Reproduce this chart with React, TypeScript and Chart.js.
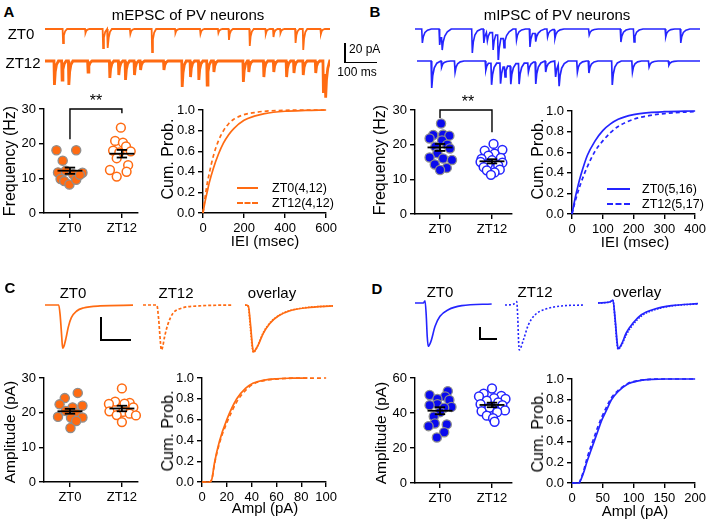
import React, { useEffect, useRef } from 'react';
import { Chart, registerables } from 'chart.js';
Chart.register(...registerables);

const FONT = '"Liberation Sans", Arial, Helvetica, sans-serif';
const ORANGE = '#FF6B12';
const BLUE = '#2424FF';
const BLUE_DOT = '#0A0AEE';
const DOT_EDGE = '#8E8E8E';

// ---------------- categories ----------------
const GROUPS = ['ZT0', 'ZT12'];

// ---------------- Panel A: example mEPSC traces (event time ms, amplitude pA) ----------------
const A_TRACE_MS = 890;
const A_ZT0_EVENT_MS = [55, 125, 180, 195, 265, 333, 406, 484, 540, 573, 638, 688, 712, 734, 781, 805, 860];
const A_ZT0_EVENT_PA = [14, 4, 19, 19, 5, 23, 4, 5, 4, 11, 17, 5, 8, 4, 14, 21, 5];
const A_ZT12_EVENT_MS = [28, 52, 73, 133, 201, 229, 250, 278, 297, 370, 427, 453, 479, 505, 526, 618, 635, 682, 713, 753, 776, 805, 844, 868, 875];
const A_ZT12_EVENT_PA = [24, 19, 24, 11, 17, 14, 19, 14, 9, 9, 26, 16, 19, 24, 11, 21, 11, 16, 11, 16, 12, 14, 12, 32, 26];
const EPSC_SHAPE_MS = [0, 1.5, 4, 8, 14];
const EPSC_SHAPE_REL = [0, -1, -0.45, -0.15, 0];

// ---------------- Panel B: example mIPSC traces ----------------
const B_TRACE1_MS = 890;
const B_ZT0_EVENT_MS = [21, 75, 83, 177, 213, 224, 242, 258, 276, 315, 357, 375, 412, 435, 542, 641, 682, 781, 828];
const B_ZT0_EVENT_PA = [14, 16, 14, 24, 14, 9, 18, 29, 11, 11, 18, 9, 8, 9, 6, 13, 13, 8, 14];
const B_TRACE2_MS = 884;
const B_ZT12_EVENT_MS = [44, 75, 117, 213, 231, 259, 273, 291, 317, 346, 369, 400, 431, 442, 499, 535, 608, 671, 723, 785];
const B_ZT12_EVENT_PA = [27, 6, 11, 9, 22, 21, 11, 19, 21, 9, 22, 11, 16, 22, 11, 12, 24, 11, 6, 4];
const IPSC_SHAPE_MS = [0, 2, 5, 10, 18, 30];
const IPSC_SHAPE_REL = [0, -1, -0.55, -0.25, -0.08, 0];

// ---------------- Panel A/B: frequency scatter ----------------
const FREQ_A_ZT0 = [18.1, 18.1, 15.1, 11.7, 12.2, 11.2, 11.6, 9.8, 9.2, 8.2, 9.6, 11.0];
const FREQ_A_ZT0_JIT = [-0.26, 0.12, -0.14, -0.23, -0.08, 0.06, 0.24, -0.18, -0.11, -0.01, 0.12, 0.19];
const FREQ_A_ZT12 = [24.6, 20.8, 20.3, 19.2, 18.0, 17.8, 17.5, 15.8, 13.8, 12.4, 11.9, 10.5];
const FREQ_A_ZT12_JIT = [-0.02, -0.13, 0.02, 0.08, -0.17, 0.17, -0.05, -0.1, 0.12, -0.23, 0.09, -0.1];
const FREQ_A_MEAN = [12.2, 17.1];
const FREQ_A_SEM = [0.9, 1.1];
const FREQ_A_BRACKET = [21.3, 30, 28.8];

const FREQ_B_ZT0 = [26.1, 22.8, 22.9, 22.6, 21.8, 21.2, 20.0, 19.4, 18.9, 17.5, 16.3, 16.0, 15.6, 14.3, 13.3, 12.7];
const FREQ_B_ZT0_JIT = [0.02, -0.13, 0.06, 0.18, -0.2, 0.04, 0.14, -0.09, 0.19, -0.05, -0.2, 0.06, 0.23, -0.1, 0.13, 0.0];
const FREQ_B_ZT12 = [20.2, 18.5, 18.3, 17.4, 16.8, 16.2, 15.9, 15.5, 15.0, 14.8, 14.3, 14.0, 13.5, 12.8, 12.6, 12.0, 11.3];
const FREQ_B_ZT12_JIT = [0.03, 0.2, -0.14, 0.05, -0.07, 0.17, -0.2, 0.0, -0.22, 0.2, -0.08, 0.12, -0.16, 0.15, -0.1, 0.05, -0.02];
const FREQ_B_MEAN = [19.2, 15.2];
const FREQ_B_SEM = [1.0, 0.6];
const FREQ_B_BRACKET = [27.7, 30, 23.6];

// ---------------- Panel A/B: IEI cumulative ----------------
const IEI_A_X = [0, 10, 20, 30, 50, 75, 100, 125, 150, 200, 250, 300, 400, 500, 600];
const IEI_A_ZT0 = [0, 0.11, 0.2, 0.29, 0.43, 0.57, 0.68, 0.76, 0.82, 0.9, 0.94, 0.965, 0.988, 0.996, 1.0];
const IEI_A_ZT12 = [0, 0.15, 0.28, 0.38, 0.55, 0.7, 0.8, 0.867, 0.91, 0.955, 0.975, 0.988, 0.997, 1.0, 1.0];
const IEI_B_X = [0, 10, 20, 30, 50, 75, 100, 125, 150, 200, 250, 300, 400];
const IEI_B_ZT0 = [0, 0.15, 0.28, 0.39, 0.57, 0.71, 0.81, 0.875, 0.92, 0.965, 0.985, 0.993, 1.0];
const IEI_B_ZT12 = [0, 0.12, 0.22, 0.31, 0.46, 0.61, 0.71, 0.79, 0.85, 0.92, 0.955, 0.975, 0.995];

// ---------------- Panel C/D: averaged waveforms (ms, pA) ----------------
const WF_C_ZT0_T = [0, 2.3, 2.55, 2.8, 2.95, 3.15, 3.5, 3.9, 4.4, 5.3, 6.4, 9.2, 14.7];
const WF_C_ZT0_V = [0, 0, -5, -14, -18.8, -18, -14.5, -9.5, -5.5, -2.6, -1.3, -0.4, -0.1];
const WF_C_ZT12_T = [0, 2.3, 2.6, 2.9, 3.05, 3.25, 3.6, 4.2, 5.0, 6.4, 9.4, 15.0];
const WF_C_ZT12_V = [0, 0, -6, -16, -19.6, -18.5, -13.8, -8.0, -3.6, -1.4, -0.4, 0];
const WF_C_OVL_T = [0, 1.1, 1.8, 2.5, 2.8, 3.2, 4.4, 6.1, 8.3, 11.1, 15.0, 20.6, 29.4];
const WF_C_OVL_ZT0_V = [0, -0.4, -8, -18, -20.3, -20, -17.4, -12.3, -8.0, -4.8, -2.5, -1.2, -0.4];
const WF_C_OVL_ZT12_V = [0, -0.8, -10, -19.2, -20.5, -20.2, -17.2, -12.0, -7.8, -4.7, -2.4, -1.1, -0.4];

const WF_D_ZT0_T = [0, 4.9, 5.9, 6.6, 7.2, 7.8, 9.4, 11.8, 14.7, 19.6, 27.5, 45.1];
const WF_D_ZT0_V = [0, 0, 1.9, -10, -28, -36.1, -31.9, -19.4, -11.1, -5.6, -2.2, -0.8];
const WF_D_ZT12_T = [0, 4.9, 6.9, 7.5, 8.0, 8.4, 10.8, 13.7, 17.6, 23.5, 33.4, 47.1];
const WF_D_ZT12_V = [0, 0.6, 2.8, -10, -30, -37.5, -29.2, -16.7, -8.3, -3.6, -0.8, 0];
const WF_D_OVL_T = [0, 6.9, 8.8, 10.0, 11.2, 11.8, 13.7, 16.6, 20.6, 25.5, 33.4, 43.1, 58.8];
const WF_D_OVL_ZT0_V = [0, 0.8, 2.3, -12, -32, -38.1, -34.8, -25, -16.7, -9.8, -5, -2.2, -0.6];
const WF_D_OVL_ZT12_V = [0, 0.8, 2.3, -14, -34, -38.5, -35.5, -26.5, -18, -10.8, -5.6, -2.5, -0.7];

// ---------------- Panel C/D: amplitude scatter ----------------
const AMP_C_ZT0 = [25.7, 24.2, 22.4, 22.0, 21.5, 20.5, 19.8, 18.8, 18.6, 18.5, 17.6, 15.6];
const AMP_C_ZT0_JIT = [0.15, -0.1, -0.2, 0.24, 0.05, -0.08, 0.12, -0.23, 0.24, 0.02, 0.12, 0.01];
const AMP_C_ZT12 = [27.0, 23.2, 22.8, 22.6, 22.5, 21.5, 20.4, 20.2, 19.7, 19.3, 19.2, 17.3];
const AMP_C_ZT12_JIT = [0.0, -0.13, 0.15, 0.05, -0.25, 0.22, -0.24, 0.02, 0.15, -0.1, 0.27, 0.0];
const AMP_C_MEAN = [20.4, 21.2];
const AMP_C_SEM = [0.7, 0.8];

const AMP_D_ZT0 = [52.5, 50.3, 49.5, 48.0, 47.5, 45.0, 44.5, 43.5, 43.0, 40.5, 38.0, 34.0, 33.5, 32.5, 29.0, 26.0];
const AMP_D_ZT0_JIT = [0.15, -0.2, 0.1, -0.05, 0.18, -0.05, -0.2, 0.22, 0.08, 0.0, -0.12, -0.1, 0.13, -0.22, 0.08, -0.06];
const AMP_D_ZT12 = [54.0, 51.0, 49.8, 49.5, 48.5, 48.0, 47.0, 46.0, 45.0, 44.5, 43.0, 41.5, 41.0, 40.5, 38.5, 37.0, 35.0];
const AMP_D_ZT12_JIT = [0.0, -0.16, 0.18, -0.25, 0.04, 0.26, -0.1, 0.12, -0.22, 0.2, -0.05, 0.25, -0.2, 0.1, -0.1, 0.02, 0.05];
const AMP_D_MEAN = [41.3, 44.6];
const AMP_D_SEM = [2.0, 1.3];

// ---------------- Panel C/D: amplitude cumulative ----------------
const AMPL_C_ZT0_X = [0, 6, 8, 10, 14, 20, 28, 35, 41, 50, 60, 70, 85];
const AMPL_C_ZT0 = [0, 0, 0.03, 0.18, 0.39, 0.6, 0.8, 0.9, 0.95, 0.98, 0.993, 0.998, 1.0];
const AMPL_C_ZT12_X = [0, 6, 8, 10, 14, 20, 28, 35, 41, 50, 60, 70, 85, 100];
const AMPL_C_ZT12 = [0, 0, 0.03, 0.17, 0.37, 0.57, 0.77, 0.88, 0.94, 0.975, 0.99, 0.997, 0.999, 1.0];
const AMPL_D_X = [0, 11, 15, 20, 24, 30, 36, 42, 48, 56, 64, 75, 90, 110, 130, 150, 200];
const AMPL_D_ZT0 = [0, 0, 0.04, 0.12, 0.2, 0.3, 0.4, 0.5, 0.6, 0.7, 0.8, 0.88, 0.95, 0.985, 0.997, 1, 1];
const AMPL_D_ZT12 = [0, 0, 0.05, 0.14, 0.23, 0.34, 0.44, 0.54, 0.63, 0.73, 0.82, 0.89, 0.955, 0.987, 0.997, 1, 1];

// ================= helpers =================
const xy = (xs: number[], ys: number[]) => xs.map((x, i) => ({ x, y: ys[i] }));

function buildTrace(times: number[], amps: number[], kT: number[], kV: number[], duration: number) {
  const pts: { x: number; y: number }[] = [{ x: 0, y: 0 }];
  let carry = 0;
  const n = kT.length;
  for (let i = 0; i < times.length; i++) {
    const t0 = times[i];
    const next = i + 1 < times.length ? times[i + 1] : Infinity;
    let last = 0;
    for (let k = 0; k < n; k++) {
      const x = t0 + kT[k];
      if (k > 0 && x >= next) break;
      const y = carry * (1 - k / (n - 1)) + amps[i] * kV[k];
      pts.push({ x, y });
      last = y;
    }
    carry = t0 + kT[n - 1] > next ? last : 0;
  }
  pts.push({ x: duration, y: 0 });
  return pts;
}

const base = {
  responsive: false,
  animation: false,
  devicePixelRatio: 1,
  events: [],
  plugins: { legend: { display: false }, tooltip: { enabled: false } },
};

function lineDs(data: any[], color: string, width: number, dash: number[] = [], smooth = false) {
  return {
    type: 'line',
    data,
    borderColor: color,
    borderWidth: width,
    borderDash: dash,
    pointRadius: 0,
    fill: false,
    tension: 0,
    cubicInterpolationMode: smooth ? 'monotone' : 'default',
    clip: false,
  };
}

function plainChart(datasets: any[], xMax: number, yMin: number, yMax: number) {
  return {
    type: 'line',
    data: { datasets },
    options: {
      ...base,
      layout: { padding: 0 },
      scales: {
        x: { type: 'linear', display: false, min: 0, max: xMax },
        y: { type: 'linear', display: false, min: yMin, max: yMax },
      },
    },
  };
}

const TICK_FONT = { family: FONT, size: 13 };
const gridOpts = { display: true, drawOnChartArea: false, drawTicks: true, tickLength: 5, color: '#000', lineWidth: 1.4 };
const borderOpts = { display: true, color: '#000', width: 1.4 };

function axes(o: {
  xMin: number; xMax: number; xStep?: number; xTicks?: number[]; xLabels?: string[];
  yMax: number; yStep: number; yFixed?: boolean; yW: number; xH: number;
}) {
  return {
    x: {
      type: 'linear',
      min: o.xMin,
      max: o.xMax,
      afterFit: (s: any) => { s.height = o.xH; },
      ...(o.xTicks ? { afterBuildTicks: (s: any) => { s.ticks = o.xTicks!.map((v) => ({ value: v })); } } : {}),
      ticks: {
        stepSize: o.xStep,
        font: TICK_FONT,
        color: '#000',
        padding: 3,
        maxRotation: 0,
        autoSkip: false,
        callback: (v: number) => (o.xLabels ? o.xLabels[Math.round(v) - 1] : String(v)),
      },
      grid: gridOpts,
      border: borderOpts,
    },
    y: {
      type: 'linear',
      min: 0,
      max: o.yMax,
      afterFit: (s: any) => { s.width = o.yW; },
      ticks: {
        stepSize: o.yStep,
        font: TICK_FONT,
        color: '#000',
        padding: 3,
        callback: (v: number) => (o.yFixed ? Number(v).toFixed(1) : String(Math.round(v))),
      },
      grid: gridOpts,
      border: borderOpts,
    },
  };
}

function meanSem(means: number[], sems: number[]) {
  const out: any[] = [];
  means.forEach((m, i) => {
    const g = i + 1;
    const s = sems[i];
    const segs = [
      [[g - 0.24, m], [g + 0.24, m]],
      [[g, m - s], [g, m + s]],
      [[g - 0.1, m - s], [g + 0.1, m - s]],
      [[g - 0.1, m + s], [g + 0.1, m + s]],
    ];
    segs.forEach((seg) => out.push(lineDs(seg.map(([x, y]) => ({ x, y })), '#000', 1.8)));
  });
  return out;
}

function scatterChart(o: {
  zt0: number[]; zt0J: number[]; zt12: number[]; zt12J: number[]; means: number[]; sems: number[];
  color: string; dot: string; yMax: number; yStep: number; xMin: number; xMax: number;
  yW: number; xH: number; padTop: number; padRight: number; bracket?: number[];
}) {
  const ds: any[] = [];
  if (o.bracket) {
    const b = o.bracket;
    ds.push(lineDs([{ x: 1, y: b[0] }, { x: 1, y: b[1] }, { x: 2, y: b[1] }, { x: 2, y: b[2] }], '#000', 1.4));
  }
  ds.push(...meanSem(o.means, o.sems));
  ds.push({
    type: 'scatter',
    data: o.zt12.map((v, i) => ({ x: 2 + o.zt12J[i], y: v })),
    pointRadius: 4.4,
    backgroundColor: '#fff',
    borderColor: o.color,
    pointBorderWidth: 1.5,
    clip: false,
  });
  ds.push({
    type: 'scatter',
    data: o.zt0.map((v, i) => ({ x: 1 + o.zt0J[i], y: v })),
    pointRadius: 4.6,
    backgroundColor: o.dot,
    borderColor: DOT_EDGE,
    pointBorderWidth: 1.3,
    clip: false,
  });
  return {
    type: 'scatter',
    data: { datasets: ds },
    options: {
      ...base,
      layout: { padding: { top: o.padTop, right: o.padRight, left: 0, bottom: 0 } },
      scales: axes({ xMin: o.xMin, xMax: o.xMax, xTicks: [1, 2], xLabels: GROUPS, yMax: o.yMax, yStep: o.yStep, yW: o.yW, xH: o.xH }),
    },
  };
}

function cumChart(o: {
  a: any[]; b: any[]; color: string; xMax: number; xStep: number; yW: number; xH: number; padTop: number; padRight: number;
}) {
  return {
    type: 'line',
    data: { datasets: [lineDs(o.a, o.color, 1.7, [], true), lineDs(o.b, o.color, 1.7, [4, 3], true)] },
    options: {
      ...base,
      layout: { padding: { top: o.padTop, right: o.padRight, left: 0, bottom: 0 } },
      scales: axes({ xMin: 0, xMax: o.xMax, xStep: o.xStep, yMax: 1, yStep: 0.2, yFixed: true, yW: o.yW, xH: o.xH }),
    },
  };
}

// ================= components =================
function ChartBox({ rect, make }: { rect: number[]; make: () => any }) {
  const ref = useRef<HTMLCanvasElement>(null);
  useEffect(() => {
    const c = new Chart(ref.current as HTMLCanvasElement, make());
    return () => c.destroy();
  }, []);
  const [l, t, w, h] = rect;
  return (
    <canvas ref={ref} width={w} height={h} style={{ position: 'absolute', left: l, top: t, width: w, height: h }} />
  );
}

function Txt({ x, y, size = 15, bold = false, rotate = false, left = false, children }: any) {
  return (
    <div
      style={{
        position: 'absolute',
        left: x,
        top: y,
        transform: `translate(${left ? '0' : '-50%'},-50%)${rotate ? ' rotate(-90deg)' : ''}`,
        fontSize: size,
        fontWeight: bold ? 700 : 400,
        lineHeight: 1,
        whiteSpace: 'nowrap',
        color: '#000',
        fontFamily: FONT,
      }}
    >
      {children}
    </div>
  );
}

function Bar({ x, y, w, h, color = '#000' }: any) {
  return <div style={{ position: 'absolute', left: x, top: y, width: w, height: h, background: color }} />;
}

function LegendLine({ x, y, w, color, dashed }: any) {
  return (
    <div
      style={{
        position: 'absolute',
        left: x,
        top: y - 1,
        width: w,
        height: 0,
        borderTop: `2px ${dashed ? 'dashed' : 'solid'} ${color}`,
      }}
    />
  );
}

export default function App() {
  return (
    <div style={{ position: 'fixed', left: 0, top: 0, width: 709, height: 520, background: '#fff', overflow: 'hidden', fontFamily: FONT }}>
      {/* ---------- Panel A traces ---------- */}
      <ChartBox rect={[45, 20, 285, 40]} make={() => plainChart([lineDs(buildTrace(A_ZT0_EVENT_MS, A_ZT0_EVENT_PA, EPSC_SHAPE_MS, EPSC_SHAPE_REL, A_TRACE_MS), ORANGE, 1.8)], A_TRACE_MS, -31, 9)} />
      <ChartBox rect={[45, 50, 285, 50]} make={() => plainChart([lineDs(buildTrace(A_ZT12_EVENT_MS, A_ZT12_EVENT_PA, EPSC_SHAPE_MS, EPSC_SHAPE_REL, A_TRACE_MS), ORANGE, 2.8)], A_TRACE_MS, -39, 11)} />
      {/* ---------- Panel B traces ---------- */}
      <ChartBox rect={[415, 20, 285, 40]} make={() => plainChart([lineDs(buildTrace(B_ZT0_EVENT_MS, B_ZT0_EVENT_PA, IPSC_SHAPE_MS, IPSC_SHAPE_REL, B_TRACE1_MS), BLUE, 1.6)], B_TRACE1_MS, -31, 9)} />
      <ChartBox rect={[417, 50, 283, 50]} make={() => plainChart([lineDs(buildTrace(B_ZT12_EVENT_MS, B_ZT12_EVENT_PA, IPSC_SHAPE_MS, IPSC_SHAPE_REL, B_TRACE2_MS), BLUE, 1.7)], B_TRACE2_MS, -39, 11)} />

      {/* scale bar A/B */}
      <Bar x={344} y={43} w={1.5} h={20} />
      <Bar x={344} y={61.5} w={33} h={1.5} />
      <Txt x={349} y={49} size={12} left>20 pA</Txt>
      <Txt x={357} y={72} size={12}>100 ms</Txt>

      {/* ---------- Frequency scatter ---------- */}
      <ChartBox rect={[0, 95, 145, 145]} make={() => scatterChart({ zt0: FREQ_A_ZT0, zt0J: FREQ_A_ZT0_JIT, zt12: FREQ_A_ZT12, zt12J: FREQ_A_ZT12_JIT, means: FREQ_A_MEAN, sems: FREQ_A_SEM, color: ORANGE, dot: ORANGE, yMax: 30, yStep: 10, xMin: 0.5, xMax: 2.31, yW: 44, xH: 27, padTop: 14, padRight: 7, bracket: FREQ_A_BRACKET })} />
      <ChartBox rect={[372, 95, 148, 145]} make={() => scatterChart({ zt0: FREQ_B_ZT0, zt0J: FREQ_B_ZT0_JIT, zt12: FREQ_B_ZT12, zt12J: FREQ_B_ZT12_JIT, means: FREQ_B_MEAN, sems: FREQ_B_SEM, color: BLUE, dot: BLUE_DOT, yMax: 30, yStep: 10, xMin: 0.519, xMax: 2.385, yW: 43, xH: 26, padTop: 15, padRight: 8, bracket: FREQ_B_BRACKET })} />

      {/* ---------- IEI cumulative ---------- */}
      <ChartBox rect={[150, 95, 190, 145]} make={() => cumChart({ a: xy(IEI_A_X, IEI_A_ZT0), b: xy(IEI_A_X, IEI_A_ZT12), color: ORANGE, xMax: 600, xStep: 200, yW: 53, xH: 27, padTop: 15, padRight: 13 })} />
      <ChartBox rect={[525, 95, 184, 145]} make={() => cumChart({ a: xy(IEI_B_X, IEI_B_ZT0), b: xy(IEI_B_X, IEI_B_ZT12), color: BLUE, xMax: 400, xStep: 100, yW: 47, xH: 26, padTop: 16, padRight: 12 })} />

      {/* ---------- Waveforms C ---------- */}
      <ChartBox rect={[45, 298, 88, 56]} make={() => plainChart([lineDs(xy(WF_C_ZT0_T, WF_C_ZT0_V), ORANGE, 1.7, [], true)], 14.7, -21.3, 3.04)} />
      <ChartBox rect={[143, 298, 90, 58]} make={() => plainChart([lineDs(xy(WF_C_ZT12_T, WF_C_ZT12_V), ORANGE, 1.7, [3, 2], true)], 15.0, -22.2, 3.04)} />
      <ChartBox rect={[245, 298, 88, 60]} make={() => plainChart([lineDs(xy(WF_C_OVL_T, WF_C_OVL_ZT12_V), ORANGE, 1.7, [1.5, 1.5], true), lineDs(xy(WF_C_OVL_T, WF_C_OVL_ZT0_V), ORANGE, 1.7, [], true)], 29.4, -23, 3.04)} />
      <Bar x={100} y={317} w={1.5} h={23} />
      <Bar x={100} y={339} w={31} h={1.5} />

      {/* ---------- Waveforms D ---------- */}
      <ChartBox rect={[415, 294, 77, 60]} make={() => plainChart([lineDs(xy(WF_D_ZT0_T, WF_D_ZT0_V), BLUE, 1.6, [], true)], 45.3, -42.5, 7.5)} />
      <ChartBox rect={[505, 296, 80, 60]} make={() => plainChart([lineDs(xy(WF_D_ZT12_T, WF_D_ZT12_V), BLUE, 1.6, [2, 2], true)], 47.1, -42.5, 7.5)} />
      <ChartBox rect={[598, 294, 100, 60]} make={() => plainChart([lineDs(xy(WF_D_OVL_T, WF_D_OVL_ZT12_V), BLUE, 1.7, [1.5, 1.5], true), lineDs(xy(WF_D_OVL_T, WF_D_OVL_ZT0_V), BLUE, 1.7, [], true)], 58.8, -42.5, 7.5)} />
      <Bar x={479} y={327} w={1.5} h={12} />
      <Bar x={479} y={338} w={18} h={1.5} />

      {/* ---------- Amplitude scatter ---------- */}
      <ChartBox rect={[0, 365, 145, 150]} make={() => scatterChart({ zt0: AMP_C_ZT0, zt0J: AMP_C_ZT0_JIT, zt12: AMP_C_ZT12, zt12J: AMP_C_ZT12_JIT, means: AMP_C_MEAN, sems: AMP_C_SEM, color: ORANGE, dot: ORANGE, yMax: 30, yStep: 10, xMin: 0.5, xMax: 2.31, yW: 44, xH: 33, padTop: 13, padRight: 7 })} />
      <ChartBox rect={[372, 365, 148, 150]} make={() => scatterChart({ zt0: AMP_D_ZT0, zt0J: AMP_D_ZT0_JIT, zt12: AMP_D_ZT12, zt12J: AMP_D_ZT12_JIT, means: AMP_D_MEAN, sems: AMP_D_SEM, color: BLUE, dot: BLUE_DOT, yMax: 60, yStep: 20, xMin: 0.519, xMax: 2.385, yW: 43, xH: 32, padTop: 13, padRight: 8 })} />

      {/* ---------- Amplitude cumulative ---------- */}
      <ChartBox rect={[150, 365, 190, 150]} make={() => cumChart({ a: xy(AMPL_C_ZT0_X, AMPL_C_ZT0), b: xy(AMPL_C_ZT12_X, AMPL_C_ZT12), color: ORANGE, xMax: 100, xStep: 20, yW: 52, xH: 33, padTop: 13, padRight: 13 })} />
      <ChartBox rect={[525, 365, 184, 150]} make={() => cumChart({ a: xy(AMPL_D_X, AMPL_D_ZT0), b: xy(AMPL_D_X, AMPL_D_ZT12), color: BLUE, xMax: 200, xStep: 50, yW: 47, xH: 32, padTop: 14, padRight: 12 })} />

      {/* ---------- Text ---------- */}
      <Txt x={9} y={11} bold>A</Txt>
      <Txt x={375} y={11} bold>B</Txt>
      <Txt x={10} y={287} bold>C</Txt>
      <Txt x={377} y={288} bold>D</Txt>
      <Txt x={188} y={14}>mEPSC of PV neurons</Txt>
      <Txt x={557} y={14}>mIPSC of PV neurons</Txt>
      <Txt x={21} y={33}>ZT0</Txt>
      <Txt x={23} y={62}>ZT12</Txt>

      <Txt x={96} y={101} size={16}>**</Txt>
      <Txt x={468} y={102} size={16}>**</Txt>

      <Txt x={10} y={161} size={16} rotate>Frequency (Hz)</Txt>
      <Txt x={168} y={159} size={16} rotate>Cum. Prob.</Txt>
      <Txt x={265} y={240}>IEI (msec)</Txt>
      <Txt x={380} y={160} size={16} rotate>Frequency (Hz)</Txt>
      <Txt x={538} y={159} size={16} rotate>Cum. Prob.</Txt>
      <Txt x={635} y={241}>IEI (msec)</Txt>

      <LegendLine x={237} y={188} w={21} color={ORANGE} />
      <LegendLine x={237} y={203} w={21} color={ORANGE} dashed />
      <Txt x={272} y={188} size={12.5} left>ZT0(4,12)</Txt>
      <Txt x={272} y={203} size={12.5} left>ZT12(4,12)</Txt>
      <LegendLine x={607} y={189} w={23} color={BLUE} />
      <LegendLine x={607} y={204} w={23} color={BLUE} dashed />
      <Txt x={642} y={189} size={12.5} left>ZT0(5,16)</Txt>
      <Txt x={642} y={204} size={12.5} left>ZT12(5,17)</Txt>

      <Txt x={73} y={292}>ZT0</Txt>
      <Txt x={176} y={292}>ZT12</Txt>
      <Txt x={272} y={292}>overlay</Txt>
      <Txt x={440} y={291}>ZT0</Txt>
      <Txt x={535} y={291}>ZT12</Txt>
      <Txt x={637} y={291}>overlay</Txt>

      <Txt x={10} y={432} size={15.5} rotate>Amplitude (pA)</Txt>
      <Txt x={168} y={431} size={16} rotate>Cum. Prob.</Txt>
      <Txt x={265} y={507}>Ampl (pA)</Txt>
      <Txt x={381} y={433} size={15.5} rotate>Amplitude (pA)</Txt>
      <Txt x={538} y={432} size={16} rotate>Cum. Prob.</Txt>
      <Txt x={635} y={510}>Ampl (pA)</Txt>
    </div>
  );
}
